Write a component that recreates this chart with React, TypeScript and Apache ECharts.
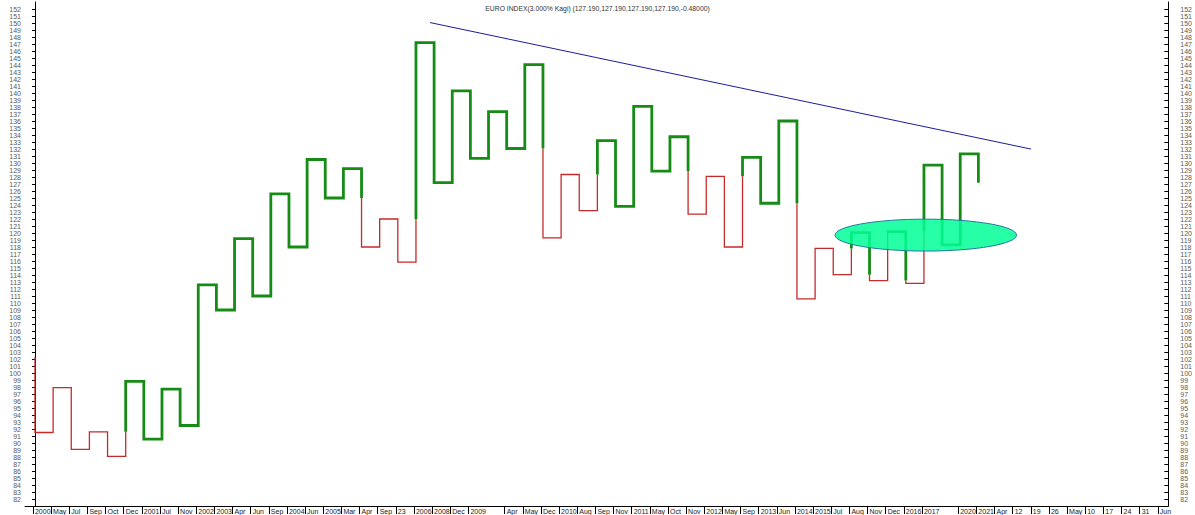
import React, { useEffect, useRef } from "react";
import * as echarts from "echarts";

// ---- data ----
const titleText =
  "EURO INDEX(3.000% Kagi) (127.190,127.190,127.190,127.190,-0.48000)";

// bottom labels, one per Kagi column
const xLabels = [
  "2000", "May", "Jul", "Sep", "Oct", "Dec", "2001", "Jul", "Nov", "2002",
  "2003", "Apr", "Jun", "Sep", "2004", "Jun", "2005", "Mar", "Apr", "Sep",
  "23", "2006", "2008", "Dec", "2009", "", "Apr", "May", "Dec", "2010",
  "Aug", "Sep", "Nov", "2011", "May", "Oct", "Nov", "2012", "May", "Sep",
  "2013", "Jun", "2014", "2015", "Jul", "Aug", "Nov", "Dec", "2016", "2017",
  "", "2020", "2021", "Apr", "12", "19", "26", "May", "10", "17",
  "24", "31", "Jun",
];

// Kagi turning points (start value, then each reversal level, last = close)
const kagiTurns = [
  102.3, 91.5, 97.9, 89.1, 91.6, 88.1, 98.8, 90.55, 97.7, 92.5,
  112.6, 109.0, 119.2, 111.0, 125.6, 118.0, 130.5, 125.0, 129.2, 118.0,
  122.0, 115.85, 147.2, 127.2, 140.3, 130.65, 137.35, 132.07, 144.06, 119.3,
  128.36, 123.2, 133.2, 123.8, 138.1, 128.85, 133.75, 122.7, 128.1, 118.0,
  130.8, 124.25, 136.0, 110.6, 117.8, 114.05, 120.05, 113.2, 120.2, 112.8,
  129.7, 118.3, 131.3, 127.19,
];

// hand-drawn resistance line (column, value)
const trendCols = [21.78, 54.9];
const trendVals = [150.06, 131.99];

// highlighted zone (ellipse): centre column/value and half-extent
const zoneCenter = [49.1, 119.7];
const zoneHalf = [5.0, 2.28];

const yMin = 81;
const yMax = 153;
const xMin = -0.55;
const xMax = 62.47;

const GREEN = "#168c16";
const RED = "#c62a2a";
const FONT = "Liberation Sans";

type Piece = { thick: boolean; coords: number[][] };

function buildKagi(p: number[]): Piece[] {
  const pieces: Piece[] = [];
  let thick = false;
  let cur: Piece = { thick, coords: [[0, p[0]]] };
  const n = p.length;
  for (let i = 0; i < n - 1; i++) {
    const a = p[i];
    const b = p[i + 1];
    let sw: number | null = null;
    if (i >= 1) {
      const prev = p[i - 1];
      if (b > a && !thick && b > prev) sw = prev;
      if (b < a && thick && b < prev) sw = prev;
    }
    if (sw !== null) {
      cur.coords.push([i, sw]);
      pieces.push(cur);
      thick = !thick;
      cur = { thick, coords: [[i, sw]] };
    }
    cur.coords.push([i, b]);
    if (i < n - 2) cur.coords.push([i + 1, b]);
  }
  pieces.push(cur);
  return pieces;
}

export default function App() {
  const ref = useRef<HTMLDivElement>(null);
  useEffect(() => {
    if (!ref.current) return;
    const chart = echarts.init(ref.current, undefined, { renderer: "svg" });
    const pieces = buildKagi(kagiTurns);
    const labelIdx = xLabels
      .map((l, i) => (l ? i : -1))
      .filter((i) => i >= 0);

    const yAxisBase = {
      type: "value" as const,
      min: yMin,
      max: yMax,
      interval: 1,
      axisLine: { show: true, lineStyle: { color: "#000", width: 1 } },
      axisTick: { show: true, length: 3, lineStyle: { color: "#000" } },
      axisLabel: {
        fontSize: 7,
        fontFamily: FONT,
        color: "#5a5a5a",
        showMinLabel: false,
        showMaxLabel: false,
      },
      splitLine: { show: false },
    };

    chart.setOption({
      animation: false,
      backgroundColor: "#fff",
      title: {
        text: titleText,
        left: "center",
        top: 0,
        textStyle: {
          fontSize: 6.8,
          fontWeight: "normal",
          color: "#333",
          fontFamily: FONT,
        },
      },
      grid: { left: 25, right: 25, top: 2, bottom: 8.3, containLabel: false },
      xAxis: {
        type: "value",
        min: xMin,
        max: xMax,
        axisLine: { show: true, onZero: false, lineStyle: { color: "#000" } },
        axisTick: {
          show: true,
          customValues: labelIdx.map((i) => i - 0.11),
          length: 8,
          lineStyle: { color: "#000" },
        },
        axisLabel: {
          customValues: labelIdx,
          formatter: (v: number) => xLabels[Math.round(v)] || "",
          align: "left",
          fontSize: 7,
          fontFamily: FONT,
          color: "#222",
          margin: 2,
        },
        splitLine: { show: false },
      },
      yAxis: [
        {
          ...yAxisBase,
          position: "left",
          axisLabel: { ...yAxisBase.axisLabel, margin: 4 },
        },
        {
          ...yAxisBase,
          position: "right",
          axisTick: { ...yAxisBase.axisTick, inside: true, length: 4 },
          axisLabel: { ...yAxisBase.axisLabel, margin: 12 },
        },
      ],
      series: [
        {
          type: "lines",
          coordinateSystem: "cartesian2d",
          polyline: true,
          silent: true,
          data: pieces
            .filter((pc) => !pc.thick)
            .map((pc) => ({ coords: pc.coords })),
          lineStyle: { color: RED, width: 1.3, opacity: 1, join: "miter", cap: "butt" },
          z: 3,
        },
        {
          type: "lines",
          coordinateSystem: "cartesian2d",
          polyline: true,
          silent: true,
          data: pieces
            .filter((pc) => pc.thick)
            .map((pc) => ({ coords: pc.coords })),
          lineStyle: { color: GREEN, width: 2.8, opacity: 1, join: "miter", cap: "butt" },
          z: 4,
        },
        {
          type: "lines",
          coordinateSystem: "cartesian2d",
          polyline: true,
          silent: true,
          data: [
            {
              coords: trendCols.map((c, k) => [c, trendVals[k]]),
            },
          ],
          lineStyle: { color: "#1c1c9a", width: 1, opacity: 1 },
          z: 5,
        },
      ],
    });

    const c = chart.convertToPixel({ gridIndex: 0 }, zoneCenter) as number[];
    const e = chart.convertToPixel({ gridIndex: 0 }, [
      zoneCenter[0] + zoneHalf[0],
      zoneCenter[1] + zoneHalf[1],
    ]) as number[];
    chart.setOption({
      graphic: [
        {
          type: "ellipse",
          z: 100,
          shape: {
            cx: c[0],
            cy: c[1],
            rx: Math.abs(e[0] - c[0]),
            ry: Math.abs(c[1] - e[1]),
          },
          style: {
            fill: "rgba(0,255,150,0.85)",
            stroke: "#1b7aa0",
            lineWidth: 1,
          },
        },
      ],
    });

    return () => chart.dispose();
  }, []);

  return (
    <div
      ref={ref}
      style={{ position: "fixed", left: 0, top: 0, width: 1195, height: 515 }}
    />
  );
}
